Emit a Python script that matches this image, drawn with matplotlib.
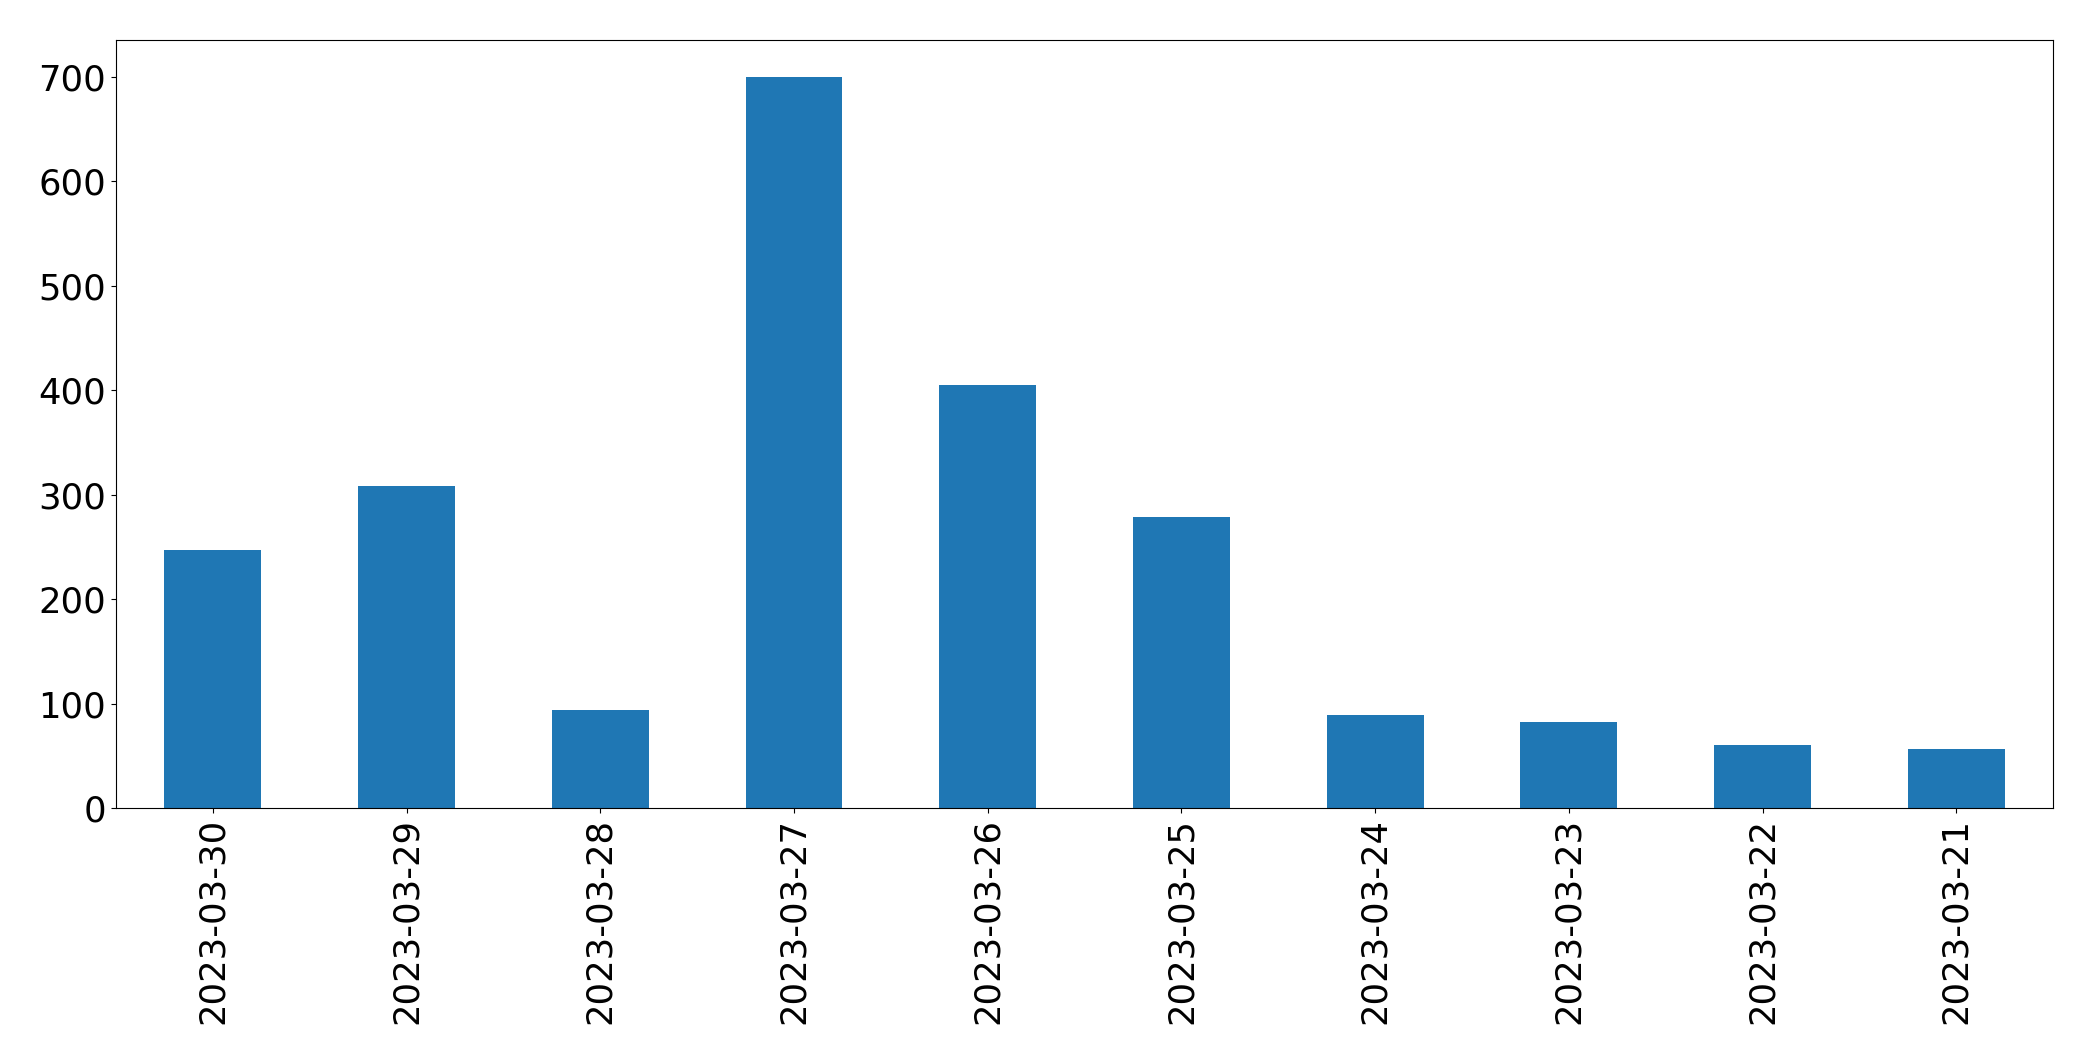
import matplotlib
matplotlib.use('agg')
import matplotlib.pyplot as plt
import numpy as np

dates = ['2023-03-30', '2023-03-29', '2023-03-28', '2023-03-27', '2023-03-26',
         '2023-03-25', '2023-03-24', '2023-03-23', '2023-03-22', '2023-03-21']
counts = [247, 308, 94, 700, 405, 279, 89, 82, 60, 56]

fig, ax = plt.subplots(figsize=(20.93, 10.61), dpi=100)
x = np.arange(len(dates))
ax.bar(x, counts, width=0.5, color='#1f77b4')
ax.set_xlim(-0.5, len(dates) - 0.5)
ax.set_ylim(0, max(counts) * 1.05)
ax.set_xticks(x)
ax.set_xticklabels(dates, rotation=90)
ax.tick_params(axis='both', labelsize=25.5)

fig.subplots_adjust(left=0.0554, right=0.981, top=0.962, bottom=0.2385)
fig.savefig('out.png', dpi=100)
